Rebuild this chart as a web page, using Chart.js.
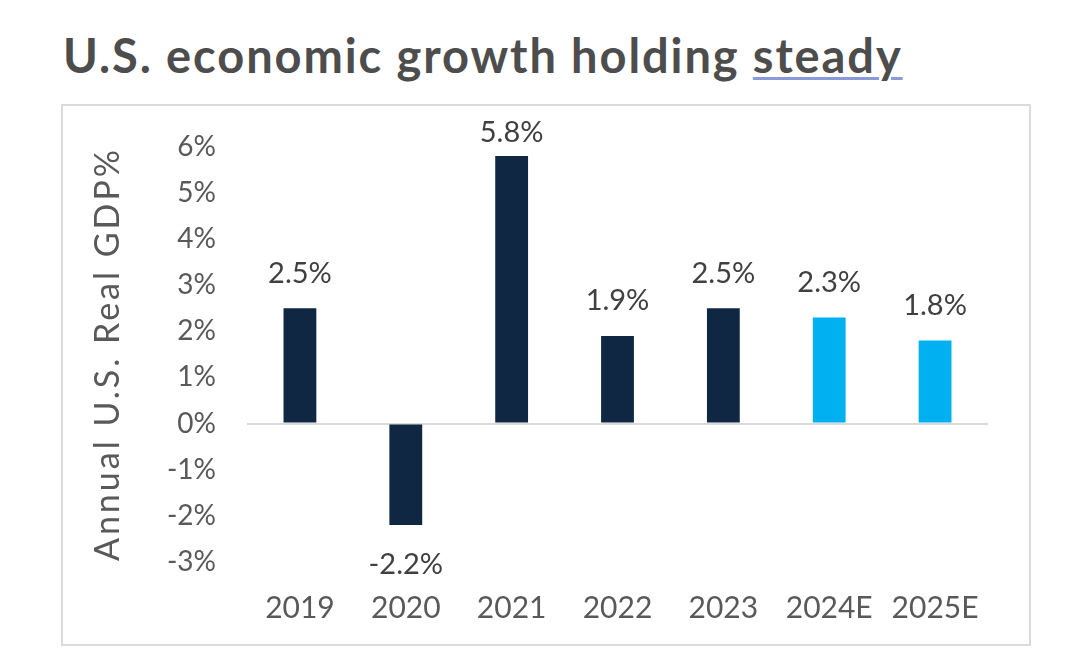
<!DOCTYPE html>
<html>
<head>
<meta charset="utf-8">
<script src="https://cdn.jsdelivr.net/npm/chart.js@4.4.0/dist/chart.umd.min.js"></script>
<style>
  body { margin: 0; background: #fff; width: 1080px; height: 669px; position: relative; overflow: hidden; font-family: Lato, "Open Sans", sans-serif; }
  #title { position: absolute; left: 63px; top: 27px; font-size: 47px; font-weight: bold; color: #4d4d4d; letter-spacing: 1.9px; white-space: nowrap; }
  #title span { text-decoration: underline; text-decoration-color: #8a99d9; text-decoration-thickness: 3px; text-underline-offset: 4px; }
  #box { position: absolute; left: 61px; top: 104px; width: 966px; height: 538px; border: 2px solid #dadada; }
  #box canvas { position: absolute; left: 0; top: -7px; }
</style>
</head>
<body>
<div id="title">U.S. economic growth holding <span>steady</span></div>
<div id="box"><canvas id="myChart" width="966" height="545"></canvas></div>
<script>
var years = ["2019", "2020", "2021", "2022", "2023", "2024E", "2025E"];
var growth = [2.5, -2.2, 5.8, 1.9, 2.5, 2.3, 1.8];
var estimate = [false, false, false, false, false, true, true];
var yTicks = [-3, -2, -1, 0, 1, 2, 3, 4, 5, 6];
var yTitle = "Annual U.S. Real GDP%";

var navy = "#0f2742";
var sky = "#00b0f0";
var fontFam = "Lato, 'Open Sans', sans-serif";
var barColors = [];
for (let i = 0; i < growth.length; i++) {
    barColors[i] = estimate[i] ? sky : navy;
}

// value labels above / below each bar, plus the spaced-out axis title
var barLabels = {
    id: "barLabels",
    afterDatasetsDraw(chart) {
        var ctx = chart.ctx;
        var meta = chart.getDatasetMeta(0);
        var area = chart.chartArea;
        ctx.save();
        ctx.font = "29px " + fontFam;
        ctx.fillStyle = "#404040";
        ctx.textAlign = "center";
        ctx.textBaseline = "middle";
        meta.data.forEach((bar, i) => {
            var v = growth[i];
            var y;
            if (v >= 0) {
                y = Math.max(bar.y - 35, area.top - 14);
            } else {
                y = bar.y + 40;
            }
            ctx.fillText(v.toFixed(1) + "%", bar.x, y);
        });
        ctx.restore();

        ctx.save();
        ctx.font = "34px " + fontFam;
        ctx.fillStyle = "#595959";
        ctx.letterSpacing = "3px";
        ctx.textAlign = "center";
        ctx.textBaseline = "middle";
        ctx.translate(45, 255);
        ctx.rotate(-Math.PI / 2);
        ctx.fillText(yTitle, 0, 0);
        ctx.restore();
    }
};

var ctx = document.getElementById("myChart").getContext("2d");
var myChart = new Chart(ctx, {
    type: "bar",
    data: {
        labels: years,
        datasets: [{
            data: growth,
            backgroundColor: barColors,
            borderWidth: 0,
            categoryPercentage: 1,
            barPercentage: 0.31
        }]
    },
    options: {
        responsive: false,
        animation: false,
        layout: { padding: { left: 0, right: 41, top: 0, bottom: 0 } },
        plugins: { legend: { display: false }, tooltip: { enabled: false } },
        scales: {
            x: {
                grid: { display: false, drawTicks: false },
                border: { display: false },
                ticks: { color: "#595959", font: { size: 30, family: fontFam }, padding: 28 },
                afterFit: function (scale) { scale.height = 82; }
            },
            y: {
                min: -3,
                max: 6,
                afterBuildTicks: function (scale) {
                    scale.ticks = yTicks.map(v => ({ value: v }));
                },
                grid: {
                    drawTicks: false,
                    lineWidth: 2,
                    color: function (c) { return c.tick && c.tick.value === 0 ? "#d9d9d9" : "rgba(0,0,0,0)"; }
                },
                border: { display: false },
                ticks: {
                    color: "#595959",
                    font: { size: 28, family: fontFam },
                    padding: 31,
                    callback: function (value) { return value + "%"; }
                },
                afterFit: function (scale) { scale.width = 184; }
            }
        }
    },
    plugins: [barLabels]
});
</script>
</body>
</html>
